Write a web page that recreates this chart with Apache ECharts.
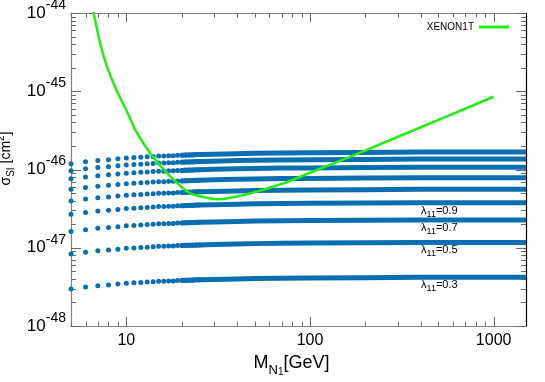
<!DOCTYPE html>
<html>
<head>
<meta charset="utf-8">
<script src="https://cdn.jsdelivr.net/npm/echarts@6.0.0/dist/echarts.min.js"></script>
<style>
html, body { margin: 0; padding: 0; background: #fff; }
#main { width: 545px; height: 382px; }
</style>
</head>
<body>
<div id="main"></div>
<script>
// cross sections are kept in units of 1e-48 cm^2
// masses where the single dots can still be told apart
const dotMasses = [5, 6, 7, 8, 9, 10, 11, 12, 13, 14, 15, 16, 17, 18, 19, 20, 21, 22, 23, 24, 25];
// level of a curve relative to its plateau
const dotRise = [0.71, 0.75, 0.78, 0.80, 0.82, 0.84, 0.85, 0.86, 0.87, 0.88, 0.89, 0.89, 0.90, 0.90, 0.91, 0.91, 0.92, 0.92, 0.92, 0.93, 0.93];
// the dense part, where dots merge into a band
const bandMasses = [20, 25, 30, 40, 50, 70, 100, 200, 400, 1000, 1500];
const bandRise = [0.91, 0.93, 0.94, 0.955, 0.965, 0.975, 0.98, 0.99, 1.0, 1.0, 1.0];
// plateau of every curve at high mass (top to bottom)
const plateau = [167, 136, 107, 78.5, 55.8, 37.7, 22.7, 11.7, 4.19];
const lambdaLabels = ['', '', '', '', '', '0.9', '0.7', '0.5', '0.3'];

const xenonMasses = [6.37, 6.64, 7.21, 7.85, 8.9, 10, 11.2, 13.5, 17.4, 22.3, 31.8, 47.4, 71.9, 109, 166, 286, 1000];
const xenonSigma = [16200, 10000, 4100, 2060, 1000, 575, 320, 161, 81, 49.7, 41.6, 49.7, 66.7, 98.6, 146, 249, 850];

const xMajor = [10, 100, 1000];
const xMinor = [5, 6, 7, 8, 9, 20, 30, 40, 50, 60, 70, 80, 90, 200, 300, 400, 500, 600, 700, 800, 900];
const yMajor = [1, 10, 100, 1000, 10000];
const yMinor = [];
for (const d of [1, 10, 100, 1000]) {
  for (let k = 2; k <= 9; k++) yMinor.push(k * d);
}

const FONT = 'Liberation Sans, Arial, Helvetica, sans-serif';
const grey = '#808080';
const tickGrey = '#6a6a6a';
const blue = '#0a6fb0';
const green = '#22ee11';
const X0 = 5, X1 = 1500, Y0 = 1, Y1 = 10000;

const xAxes = [
  {
    type: 'log', position: 'bottom', min: X0, max: X1,
    axisLine: { show: true, lineStyle: { color: grey, width: 1.2 } },
    axisTick: { show: false },
    axisLabel: {
      customValues: xMajor, fontSize: 16, color: '#000', margin: 7, fontFamily: FONT,
      formatter: v => String(v)
    },
    splitLine: { show: false },
    name: '{m|M}{n|N}{o|1}{m|[GeV]}',
    nameLocation: 'middle', nameGap: 22,
    nameTextStyle: {
      padding: [0, 14, 0, 0],
      rich: {
        m: { fontSize: 18, color: '#000', fontFamily: FONT, lineHeight: 28 },
        n: { fontSize: 13, color: '#000', fontFamily: FONT, lineHeight: 19, verticalAlign: 'bottom' },
        o: { fontSize: 10, color: '#000', fontFamily: FONT, lineHeight: 12, verticalAlign: 'bottom' }
      }
    }
  },
  {
    type: 'log', position: 'top', min: X0, max: X1,
    axisLine: { show: true, lineStyle: { color: grey, width: 1.2 } },
    axisTick: { show: false }, axisLabel: { show: false }, splitLine: { show: false }
  }
];

const yAxes = [
  {
    type: 'log', position: 'left', min: Y0, max: Y1,
    axisLine: { show: true, lineStyle: { color: grey, width: 1.2 } },
    axisTick: { show: false },
    axisLabel: {
      customValues: yMajor, margin: 5,
      formatter: function (v) {
        return '{b|10}{s|' + (Math.round(Math.log10(v)) - 48) + '}';
      },
      rich: {
        b: { fontSize: 17, color: '#000', fontFamily: FONT, lineHeight: 30 },
        s: { fontSize: 14, color: '#000', fontFamily: FONT, lineHeight: 15, verticalAlign: 'top' }
      }
    },
    splitLine: { show: false },
    name: '{g|σ}{i|SI}{g| [cm}{u|2}{g|]}',
    nameLocation: 'middle', nameGap: 50,
    nameTextStyle: {
      padding: [0, 0, 0, 22],
      rich: {
        g: { fontSize: 14, color: '#000', fontFamily: FONT, lineHeight: 20 },
        i: { fontSize: 10, color: '#000', fontFamily: FONT, lineHeight: 12, verticalAlign: 'bottom' },
        u: { fontSize: 10, color: '#000', fontFamily: FONT, lineHeight: 12, verticalAlign: 'top' }
      }
    }
  },
  {
    type: 'log', position: 'right', min: Y0, max: Y1,
    axisLine: { show: true, lineStyle: { color: '#000', width: 1.2 } },
    axisTick: { show: false }, axisLabel: { show: false }, splitLine: { show: false }
  }
];

// inward ticks on all four sides, placed through the axes' own scales
// (snapped to pixel centres so the thin lines stay crisp)
const snap = v => Math.round(v) + 0.5;
function tickSegment(x1, y1, x2, y2) {
  return { type: 'line', shape: { x1: x1, y1: y1, x2: x2, y2: y2 }, style: { stroke: tickGrey, lineWidth: 1 } };
}
const xTickData = xMajor.map(v => [v, Y0, 1]).concat(xMinor.map(v => [v, Y0, 0]));
const yTickData = yMajor.map(v => [X0, v, 1]).concat(yMinor.map(v => [X0, v, 0]));

const series = [];
series.push({
  type: 'custom', silent: true, clip: false, z: 1,
  data: xTickData,
  renderItem: function (params, api) {
    const len = api.value(2) ? 9 : 4.5;
    const b = api.coord([api.value(0), Y0]);
    const t = api.coord([api.value(0), Y1]);
    const x = snap(b[0]);
    return { type: 'group', children: [
      tickSegment(x, b[1], x, b[1] - len),
      tickSegment(x, t[1], x, t[1] + len)
    ] };
  }
});
series.push({
  type: 'custom', silent: true, clip: false, z: 1,
  data: yTickData,
  renderItem: function (params, api) {
    const len = api.value(2) ? 10 : 5;
    const l = api.coord([X0, api.value(1)]);
    const r = api.coord([X1, api.value(1)]);
    const y = snap(l[1]);
    return { type: 'group', children: [
      tickSegment(l[0], y, l[0] + len, y),
      tickSegment(r[0], y, r[0] - len, y)
    ] };
  }
});

plateau.forEach(function (level, i) {
  series.push({
    type: 'scatter', silent: true, z: 2,
    symbolSize: 5,
    itemStyle: { color: blue, opacity: 1 },
    data: dotMasses.map((m, j) => [m, level * dotRise[j]])
  });
  const band = {
    type: 'line', silent: true, z: 2,
    symbol: 'none', showSymbol: false,
    lineStyle: { color: blue, width: 5 },
    data: bandMasses.map((m, j) => [m, level * bandRise[j]])
  };
  if (lambdaLabels[i]) {
    band.markPoint = {
      symbol: 'circle', symbolSize: 1, silent: true,
      itemStyle: { color: 'rgba(0,0,0,0)' },
      data: [{ coord: [400, level] }],
      label: {
        show: true, position: 'right', distance: 0, offset: [0, 8],
        formatter: '{l|λ}{s|11}{l|=' + lambdaLabels[i] + '}',
        rich: {
          l: { fontSize: 11, color: '#000', fontFamily: FONT, lineHeight: 16 },
          s: { fontSize: 9, color: '#000', fontFamily: FONT, lineHeight: 11, verticalAlign: 'bottom' }
        }
      }
    };
  }
  series.push(band);
});
series.push({
  name: 'XENON1T', type: 'line', z: 5, smooth: 0.2,
  symbol: 'none', showSymbol: false,
  itemStyle: { color: green },
  lineStyle: { color: green, width: 2.5 },
  data: xenonMasses.map((m, j) => [m, xenonSigma[j]])
});

const chart = echarts.init(document.getElementById('main'), null, { renderer: 'canvas' });
chart.setOption({
  animation: false,
  backgroundColor: '#fff',
  grid: { left: 71, right: 19, top: 13, bottom: 56, containLabel: false, outerBoundsMode: 'none' },
  legend: {
    data: [{ name: 'XENON1T', icon: 'rect' }],
    right: 31, top: 17, align: 'right',
    itemWidth: 30, itemHeight: 3,
    textStyle: { fontSize: 10, color: '#000', fontFamily: FONT }
  },
  xAxis: xAxes,
  yAxis: yAxes,
  series: series
});
</script>
</body>
</html>
